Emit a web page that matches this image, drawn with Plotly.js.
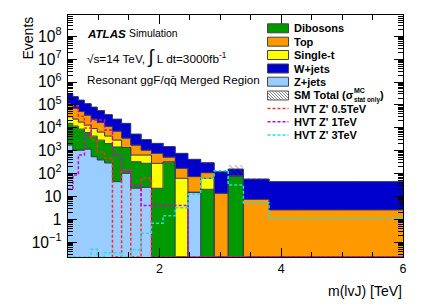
<!DOCTYPE html>
<html><head><meta charset="utf-8">
<script src="https://cdn.plot.ly/plotly-3.0.1.min.js"></script>
<style>body{margin:0;background:#fff;} #chart{width:425px;height:306px;}</style>
</head><body><div id="chart"></div>
<script>
// ---- data ----
const binEdges = [0.5, 0.58, 0.67, 0.77, 0.88, 0.98, 1.1, 1.23, 1.38, 1.53, 1.7, 1.87, 2.06, 2.26, 2.47, 2.68, 2.9, 3.13, 3.38, 3.8, 6.0];
const zjets     = [1760, 1060, 1050, 1170, 540, 390, 290, 44, 102, 23, 25, 0, 0, 0, 15, 0, 0, 0, 0, 0];
const dibosons  = [13800, 10800, 7700, 5000, 3800, 2500, 1750, 1400, 1270, 305, 254, 22.6, 318, 0, 0, 20.4, 0, 77.8, 0, 0];
const singleTop = [14600, 12100, 8900, 6900, 4900, 3600, 2300, 1460, 0, 315, 364, 256, 0, 61.7, 0, 41.3, 0, 0, 0, 0];
const topQuark  = [67800, 48500, 33300, 22800, 14800, 10400, 6960, 4280, 2180, 1120, 417, 483, 208, 107, 57.7, 46.3, 13.7, 0, 7.47, 2.55];
const wjets     = [213000, 157500, 111000, 78100, 56000, 39500, 26400, 16800, 12050, 3550, 1990, 1320, 984, 593, 345, 188, 106, 79.2, 50, 41.4];
const statErr   = [1500, 1300, 1100, 900, 700, 600, 500, 400, 350, 200, 150, 100, 80, 50, 35, 25, 12, 75, 5, 3];
const hvt05 = [108000, 89000, 32000, 9700, 2900, 870, 475, 0, 142, 0, 61.7, 0, 0, 0, 0, 0, 0, 0, 0, 0];
const hvt1  = [21, 86, 640, 4800, 21700, 21700, 7900, 640, 129, 31.5, 4.0, 4.0, 4.0, 4.0, 0, 0, 0, 0, 0, 0];
const hvt3  = [0, 0, 0, 0, 0.049, 0, 0.034, 0.034, 0, 0.046, 0.245, 0.67, 1.44, 3.2, 12.4, 61.7, 132, 31.5, 5.15, 1.1];
const legendLabels = ['Dibosons', 'Top', 'Single-t', 'W+jets', 'Z+jets', 'SM Total (σ', "HVT Z' 0.5TeV", "HVT Z' 1TeV", "HVT Z' 3TeV"];

// ---- styles ----
const C = {z:'#99ccff', d:'#009900', s:'#ffff00', t:'#ff9900', w:'#0000cc', red:'#ff2a2a', mag:'#d000d0', cyan:'#20e0e0'};
const FONT = 'Liberation Sans, Arial, Helvetica, sans-serif';
const L = 68, R = 403, T = 15, B = 257;
const fx = px => (px - L) / (R - L);
const fy = py => (B - py) / (B - T);

const centers = [], widths = [];
for (let i = 0; i < binEdges.length - 1; i++) {
  centers.push((binEdges[i] + binEdges[i + 1]) / 2);
  widths.push(binEdges[i + 1] - binEdges[i]);
}
function stackBar(name, vals, color) {
  return {type: 'bar', name, x: centers, y: vals, width: widths,
    marker: {color, line: {color: color, width: 0.5}}, hoverinfo: 'skip'};
}
const traces = [
  stackBar('Z+jets', zjets, C.z),
  stackBar('Dibosons', dibosons, C.d),
  stackBar('Single-t', singleTop, C.s),
  stackBar('Top', topQuark, C.t),
  stackBar('W+jets', wjets, C.w)
];
const total = centers.map((_, i) => zjets[i] + dibosons[i] + singleTop[i] + topQuark[i] + wjets[i]);
traces.push({type: 'bar', name: 'SM Total', x: centers, width: widths,
  base: total.map((t, i) => t - statErr[i]), y: statErr.map(e => 2 * e),
  marker: {color: 'rgba(0,0,0,0)', line: {width: 0},
    pattern: {shape: '\\', fgcolor: '#555', bgcolor: 'rgba(0,0,0,0)', size: 4, solidity: 0.25, fillmode: 'overlay'}},
  hoverinfo: 'skip'});

const yMinLog = -1.65, yMaxLog = 8.93;
const floorVal = Math.pow(10, yMinLog + 0.005);
function stepY(vals) {
  const y = vals.map(v => v > 0 ? v : floorVal);
  y.push(y[y.length - 1]);
  return y;
}
// histogram outlines (step lines on the cumulative stack levels)
const layers = [zjets, dibosons, singleTop, topQuark, wjets];
let cum = centers.map(() => 0);
layers.forEach(arr => {
  cum = cum.map((c, i) => c + arr[i]);
  traces.push({type: 'scatter', mode: 'lines', x: binEdges, y: stepY(cum),
    line: {shape: 'hv', color: '#3a3a66', width: 1}, hoverinfo: 'skip'});
});
function sig(name, vals, color) {
  return {type: 'scatter', mode: 'lines', name, x: binEdges, y: stepY(vals),
    line: {shape: 'hv', color, width: 1.5, dash: '3px,2px'}, hoverinfo: 'skip'};
}
traces.push(sig("HVT Z' 0.5TeV", hvt05, C.red));
traces.push(sig("HVT Z' 1TeV", hvt1, C.mag));
traces.push(sig("HVT Z' 3TeV", hvt3, C.cyan));

// ---- legend drawn by hand ----
const shapes = [], annotations = [];
const rowY = [28.3, 41.7, 55, 68.5, 81.7, 95.5, 108.5, 121.7, 135];
const boxColors = [C.d, C.t, C.s, C.w, C.z];
const bx0 = 267.5, bx1 = 288.5;
for (let i = 0; i < 5; i++) {
  shapes.push({type: 'rect', xref: 'paper', yref: 'paper', x0: fx(bx0), x1: fx(bx1),
    y0: fy(rowY[i] + 4.5), y1: fy(rowY[i] - 4.5), fillcolor: boxColors[i], line: {color: '#444', width: 1}});
}
{
  const yc = rowY[5], top = yc - 4.5, bot = yc + 4.5, h = 9;
  shapes.push({type: 'rect', xref: 'paper', yref: 'paper', x0: fx(bx0), x1: fx(bx1),
    y0: fy(bot), y1: fy(top), fillcolor: '#fff', line: {color: '#555', width: 1}});
  for (let a = bx0 - h + 1.5; a < bx1; a += 3) {
    const t0 = Math.max(0, (bx0 - a) / h), t1 = Math.min(1, (bx1 - a) / h);
    if (t1 > t0) shapes.push({type: 'line', xref: 'paper', yref: 'paper',
      x0: fx(a + h * t0), y0: fy(top + h * t0), x1: fx(a + h * t1), y1: fy(top + h * t1),
      line: {color: '#666', width: 0.8}});
  }
}
[C.red, C.mag, C.cyan].forEach((c, k) => {
  const yc = rowY[6 + k];
  shapes.push({type: 'line', xref: 'paper', yref: 'paper', x0: fx(bx0), x1: fx(bx1), y0: fy(yc), y1: fy(yc),
    line: {color: c, width: 1.5, dash: '3px,2px'}});
});
function ann(text, px, py, opts) {
  return Object.assign({text, xref: 'paper', yref: 'paper', x: fx(px), y: fy(py), showarrow: false,
    xanchor: 'left', yanchor: 'middle', font: {family: FONT, size: 11, color: '#000'}}, opts || {});
}
legendLabels.forEach((lab, i) => annotations.push(ann('<b>' + lab + '</b>', 292, rowY[i])));
annotations.push(ann('<b>MC</b>', 352, 90.5, {font: {family: FONT, size: 7, color: '#000'}}));
annotations.push(ann('<b>stat only</b>', 351.5, 99.8, {font: {family: FONT, size: 6.3, color: '#000'}}));
annotations.push(ann('<b>)</b>', 377.5, 95.5));

// labels inside the frame
annotations.push(ann('<b><i>ATLAS</i></b>', 84.5, 33.5, {font: {family: FONT, size: 11.6, color: '#000'}}));
annotations.push(ann('Simulation', 126.5, 33.5, {font: {family: FONT, size: 10.4, color: '#000'}}));
annotations.push(ann('√s=14 TeV, <span style="font-size:19px">∫</span> L dt=3000fb<sup>-1</sup>', 84.5, 57, {font: {family: FONT, size: 11.8, color: '#000'}}));
annotations.push(ann('Resonant ggF/qq̄ Merged Region', 84.5, 79, {font: {family: FONT, size: 11.7, color: '#000'}}));
annotations.push(ann('Events', 27, 15, {xanchor: 'center', yanchor: 'top', textangle: -90, font: {family: FONT, size: 14, color: '#000'}}));
annotations.push(ann('m(lvJ) [TeV]', 403.5, 291, {xanchor: 'right', font: {family: FONT, size: 14, color: '#000'}}));

const axisCommon = {showline: true, linecolor: '#000', linewidth: 1, mirror: 'ticks', ticks: 'inside',
  tickcolor: '#000', ticklen: 9, tickwidth: 1, showgrid: false, zeroline: false,
  tickfont: {family: FONT, size: 12.5, color: '#000'}};
const layout = {
  width: 425, height: 306, margin: {l: L, r: 425 - R, t: T, b: 306 - B},
  paper_bgcolor: '#fff', plot_bgcolor: '#fff', showlegend: false,
  barmode: 'stack', bargap: 0,
  xaxis: Object.assign({}, axisCommon, {range: [0.5, 6], tick0: 0, dtick: 2,
    minor: {dtick: 0.5, tick0: 0, ticks: 'inside', ticklen: 5, tickcolor: '#000'}}),
  yaxis: Object.assign({}, axisCommon, {type: 'log', range: [yMinLog, yMaxLog], dtick: 1,
    exponentformat: 'power', ticklabelstandoff: 3,
    minor: {dtick: 'D1', ticks: 'inside', ticklen: 5, tickcolor: '#000'}}),
  shapes, annotations
};
Plotly.newPlot('chart', traces, layout, {staticPlot: true, displayModeBar: false});
</script>
</body></html>
